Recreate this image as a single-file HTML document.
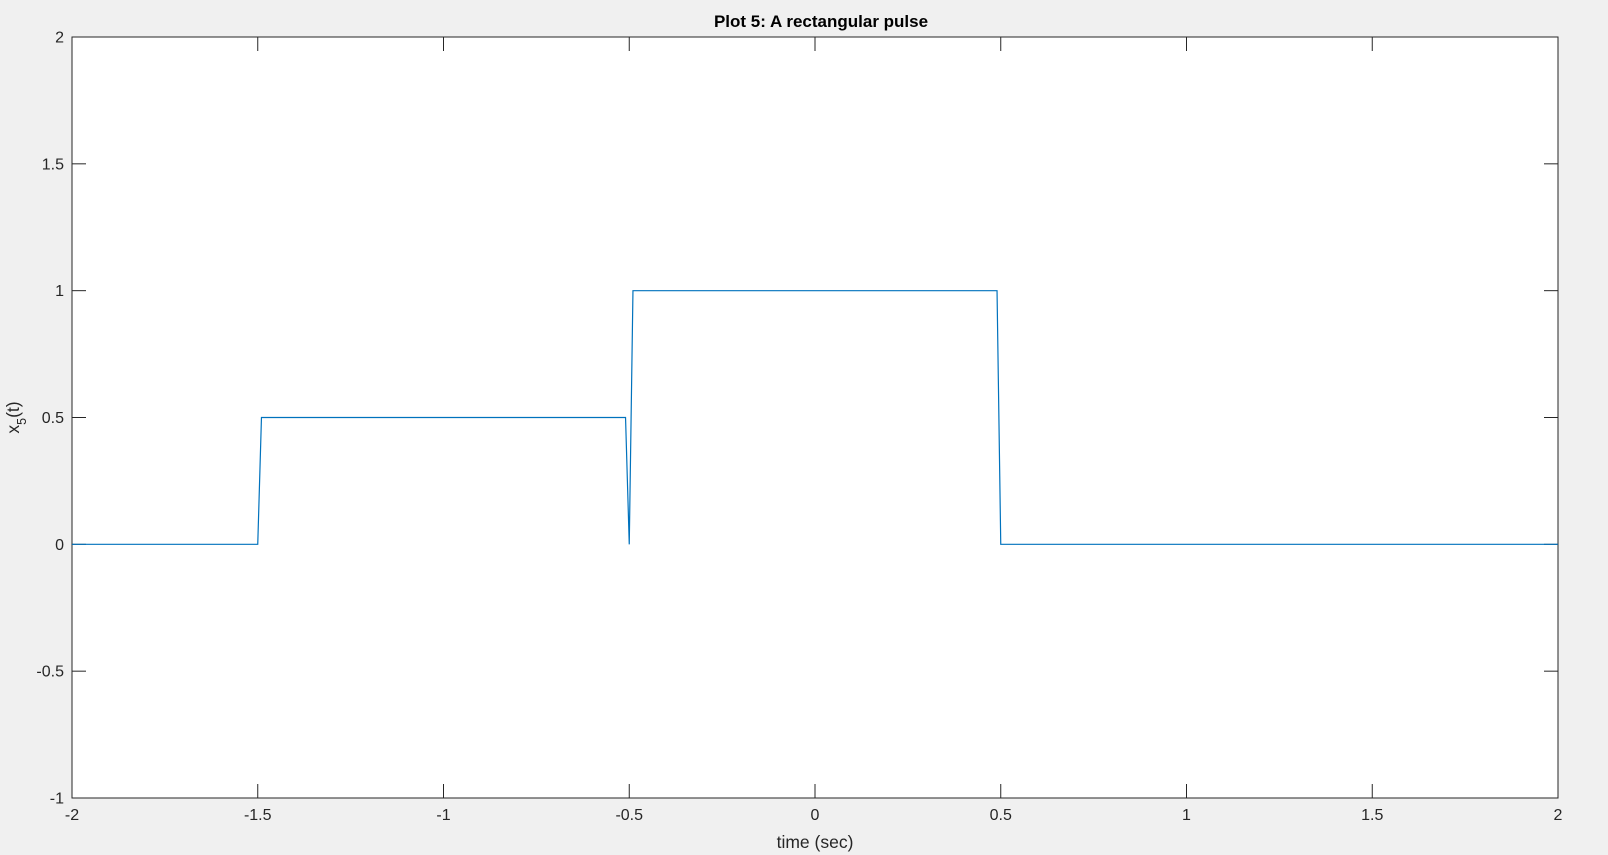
<!DOCTYPE html>
<html><head><meta charset="utf-8"><style>
html,body{margin:0;padding:0;background:#f0f0f0;}
svg{display:block;font-family:"Liberation Sans",Arial,sans-serif;}
</style></head><body>
<svg id="chart" width="1608" height="855"></svg>
<script>
const tData = [-2, -1.5, -1.49, -0.51, -0.5, -0.49, 0.49, 0.5, 2];
const xData = [0, 0, 0.5, 0.5, 0, 1, 1, 0, 0];
const xTicks = [-2, -1.5, -1, -0.5, 0, 0.5, 1, 1.5, 2];
const yTicks = [-1, -0.5, 0, 0.5, 1, 1.5, 2];

const L=72,R=1558,T=37,B=798;
const sx=v=>L+(v+2)/4*(R-L);
const sy=v=>B-(v+1)/3*(B-T);
const ns='http://www.w3.org/2000/svg';
const svg=document.getElementById('chart');
function mk(tag,attrs,parent){const e=document.createElementNS(ns,tag);for(const k in attrs)e.setAttribute(k,attrs[k]);(parent||svg).appendChild(e);return e;}

const bg=mk('rect',{x:L,y:T,width:R-L,height:B-T,fill:'#fff',stroke:'#262626','stroke-width':1});



const gx=mk('g',{});


xTicks.forEach(v=>{
  const x=sx(v);
  mk('line',{x1:x,x2:x,y1:B,y2:B-14,stroke:'#262626'},gx);
  mk('line',{x1:x,x2:x,y1:T,y2:T+14,stroke:'#262626'},gx);
  const t=mk('text',{x:x,y:B+22,'text-anchor':'middle','font-size':16,fill:'#262626'},gx);
  t.textContent=v;
  
  
});
const gy=mk('g',{});


yTicks.forEach(v=>{
  const y=sy(v);
  mk('line',{x1:L,x2:L+14,y1:y,y2:y,stroke:'#262626'},gy);
  mk('line',{x1:R,x2:R-14,y1:y,y2:y,stroke:'#262626'},gy);
  const t=mk('text',{x:L-8,y:y+5.5,'text-anchor':'end','font-size':16,fill:'#262626'},gy);
  t.textContent=v;
  
  
});

const pts=tData.map((t,i)=>sx(t)+','+sy(xData[i])).join(' ');
const line=mk('polyline',{points:pts,fill:'none',stroke:'#0072bd','stroke-width':1.2});



const title=mk('text',{x:(L+R)/2+6,y:27,'text-anchor':'middle','font-size':17,'font-weight':'bold',fill:'#000'});
title.textContent='Plot 5: A rectangular pulse';



const xl=mk('text',{x:(L+R)/2,y:848,'text-anchor':'middle','font-size':17.5,fill:'#262626'});
xl.textContent='time (sec)';



const yl=mk('text',{x:0,y:0,transform:'translate(19,'+((T+B)/2)+') rotate(-90)','text-anchor':'middle','font-size':17.5,fill:'#262626'});
yl.innerHTML='x<tspan baseline-shift="sub" font-size="12.5">5</tspan>(t)';


</script>
</body></html>
